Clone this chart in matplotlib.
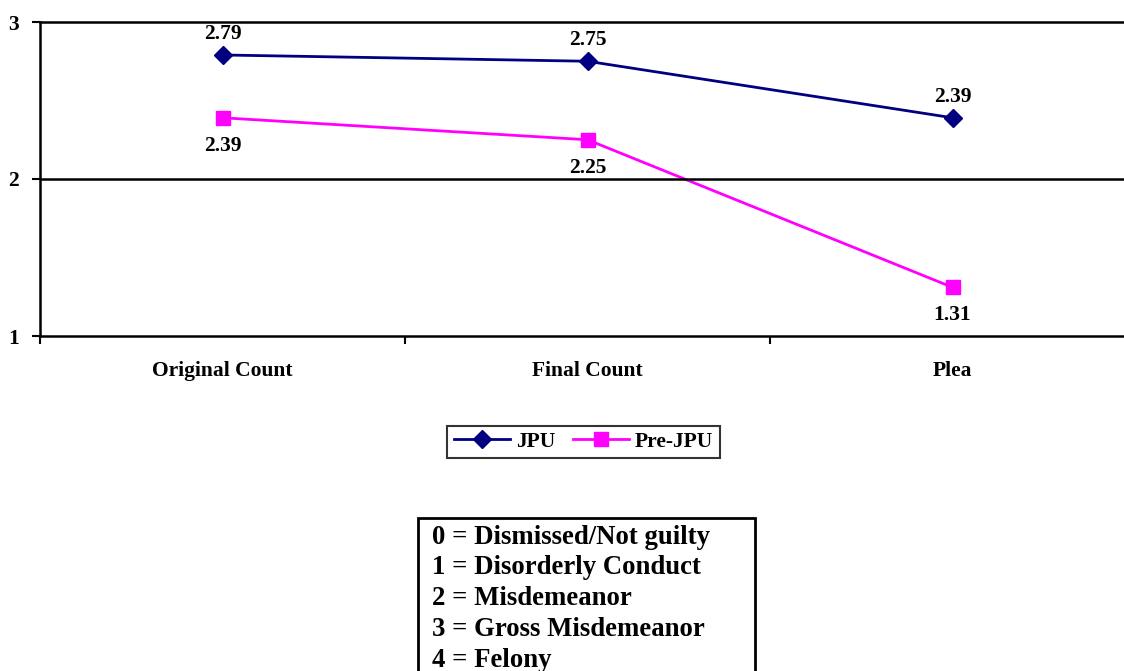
import matplotlib.pyplot as plt
from matplotlib.patches import Rectangle

categories = ['Original Count', 'Final Count', 'Plea']
jpu = [2.79, 2.75, 2.39]
pre_jpu = [2.39, 2.25, 1.31]
key_lines = ['0 = Dismissed/Not guilty', '1 = Disorderly Conduct', '2 = Misdemeanor',
             '3 = Gross Misdemeanor', '4 = Felony']

plt.rcParams['font.family'] = ['Liberation Serif', 'DejaVu Serif']
plt.rcParams['font.weight'] = 'bold'

W, H = 1124, 671
FS = 15.5
fig = plt.figure(figsize=(W / 100, H / 100), dpi=100)
ax = fig.add_axes([40 / W, 1 - 336 / H, (1135 - 40) / W, (336 - 22) / H])

x = range(len(categories))
ax.plot(x, jpu, color='#000080', lw=2, marker='D', markersize=9.5, label='JPU')
ax.plot(x, pre_jpu, color='#FF00FF', lw=2, marker='s', markersize=10.5, label='Pre-JPU')

for i, v in enumerate(jpu):
    ax.annotate(f'{v:.2f}', (i, v), xytext=(0, 15), textcoords='offset points',
                ha='center', va='center', fontsize=FS, fontweight='bold')
for i, v in enumerate(pre_jpu):
    ax.annotate(f'{v:.2f}', (i, v), xytext=(0, -20), textcoords='offset points',
                ha='center', va='center', fontsize=FS, fontweight='bold')

ax.set_xlim(-0.5, 2.5)
ax.set_ylim(1, 3)
ax.set_yticks([1, 2, 3])
ax.set_yticklabels(['1', '2', '3'], fontsize=FS, fontweight='bold')
ax.set_xticks([-0.5, 0.5, 1.5, 2.5])
ax.set_xticklabels([])
ax.set_xticks(list(x), minor=True)
ax.set_xticklabels(categories, minor=True, fontsize=FS, fontweight='bold')
ax.tick_params(axis='x', which='minor', length=0, pad=18)
ax.tick_params(axis='both', which='major', length=6, width=1.5, direction='out')
ax.tick_params(axis='y', pad=9)
ax.axhline(2, color='black', lw=1.8)
for s in ['left', 'top', 'bottom']:
    ax.spines[s].set_linewidth(1.8)
ax.spines['right'].set_visible(False)

leg = fig.legend(loc='center', bbox_to_anchor=(583.5 / W, 1 - 442 / H), ncol=2,
                 fontsize=FS, frameon=True, fancybox=False, edgecolor='black',
                 handlelength=2.6, columnspacing=0.8, handletextpad=0.3,
                 borderpad=0.3)
leg.get_frame().set_linewidth(1.5)

# rating key box below the legend
fig.patches.append(Rectangle((418 / W, -0.05), (755 - 418) / W, 1 - 518 / H + 0.05,
                             transform=fig.transFigure, fill=False,
                             edgecolor='black', lw=2))
for k, line in enumerate(key_lines):
    fig.text(432 / W, 1 - (537 + 30.8 * k) / H, line, fontsize=19.3,
             fontweight='bold', va='center', ha='left')

fig.savefig('out.png', dpi=100)
